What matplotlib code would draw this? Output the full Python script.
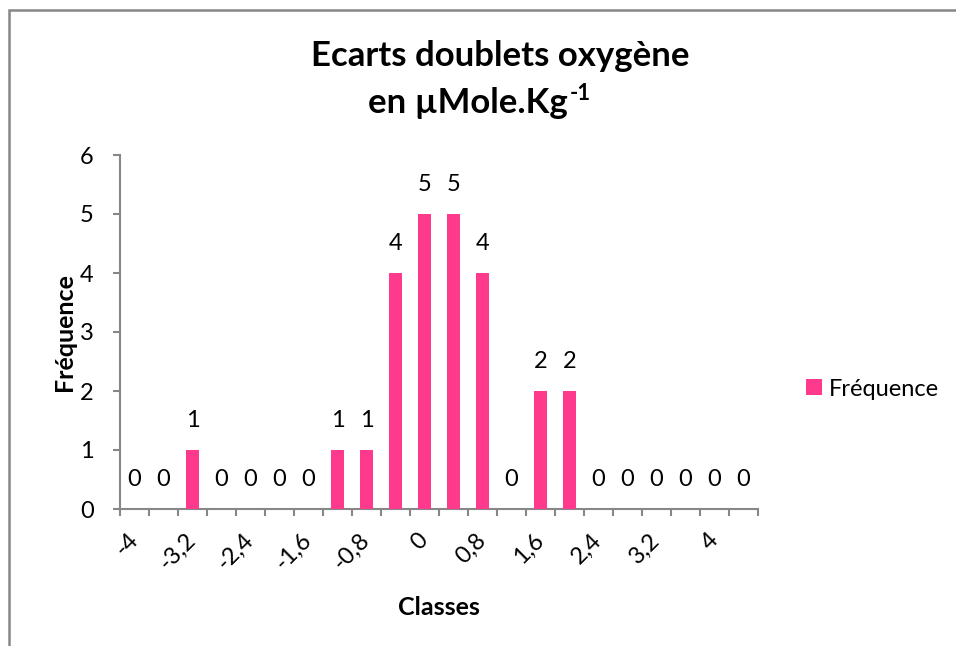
import numpy as np
import matplotlib
matplotlib.use('Agg')
import matplotlib.pyplot as plt
from matplotlib.patches import Rectangle

############################### Data ###############################

classes = ['-4', '-3,6', '-3,2', '-2,8', '-2,4', '-2', '-1,6', '-1,2', '-0,8', '-0,4', '0',
           '0,4', '0,8', '1,2', '1,6', '2', '2,4', '2,8', '3,2', '3,6', '4', '4,4']
freq = [0, 0, 1, 0, 0, 0, 0, 1, 1, 4, 5, 5, 4, 0, 2, 2, 0, 0, 0, 0, 0, 0]

title_1 = 'Ecarts doublets oxygène'
title_2 = 'en µMole.Kg'
title_sup = '-1'

############################### Style ###############################

plt.rcParams['font.family'] = ['Lato', 'DejaVu Sans']

pink = '#FF3A8C'
grey = '#878787'
fs = 17

fig = plt.figure(figsize=(9.56, 6.46), dpi=100)
W, H = 956, 646
ax = fig.add_axes([120 / W, 137 / H, 638 / W, 354 / H])

############################### Plot ###############################

x = np.arange(len(classes)) + 0.5
ax.bar(x, freq, width=0.42, color=pink, label='Fréquence', zorder=3)

for xi, v in zip(x, freq):
    ax.annotate(str(v), (xi, v), xytext=(0, 21), textcoords='offset points',
                ha='center', va='center', fontsize=fs)

ax.set_xlim(0, len(classes))
ax.set_ylim(0, 6)
ax.set_yticks(range(0, 7))
ax.set_xticks(np.arange(len(classes) + 1))
ax.set_xticklabels([])
ax.set_xticks(x[::2], minor=True)
ax.set_xticklabels(classes[::2], minor=True, rotation=45, ha='right',
                   va='center', rotation_mode='anchor', fontsize=fs)
ax.tick_params(axis='x', which='minor', length=0, pad=20)
ax.tick_params(axis='x', which='major', length=5, width=1.5, color=grey)
ax.tick_params(axis='y', length=5, width=1.5, color=grey, labelsize=fs, pad=14)

for s in ['top', 'right']:
    ax.spines[s].set_visible(False)
for s in ['left', 'bottom']:
    ax.spines[s].set_color(grey)
    ax.spines[s].set_linewidth(1.5)

ax.set_xlabel('Classes', fontsize=18, fontweight='bold', labelpad=16)
ax.set_ylabel('Fréquence', fontsize=18, fontweight='bold', labelpad=3)

fig.text(500 / W, 1 - 56 / H, title_1, ha='center', va='center', fontsize=25, fontweight='bold')
t2 = fig.text(468 / W, 1 - 103 / H, title_2, ha='center', va='center', fontsize=25, fontweight='bold')
ax.annotate(title_sup, xy=(1, 1), xycoords=t2, xytext=(1, 3), textcoords='offset points',
            ha='left', va='top', fontsize=16, fontweight='bold', annotation_clip=False)

ax.legend(loc='center left', bbox_to_anchor=(785 / W, 1 - 389 / H), bbox_transform=fig.transFigure,
          frameon=False, fontsize=fs, handlelength=0.65, handleheight=0.65, handletextpad=0.3)

# chart frame
fig.patches.append(Rectangle((9 / W, -0.1), 1.2, 1 - 10 / H + 0.1, transform=fig.transFigure,
                             fill=False, edgecolor=grey, linewidth=1.8))

fig.savefig('out.png', dpi=100)
